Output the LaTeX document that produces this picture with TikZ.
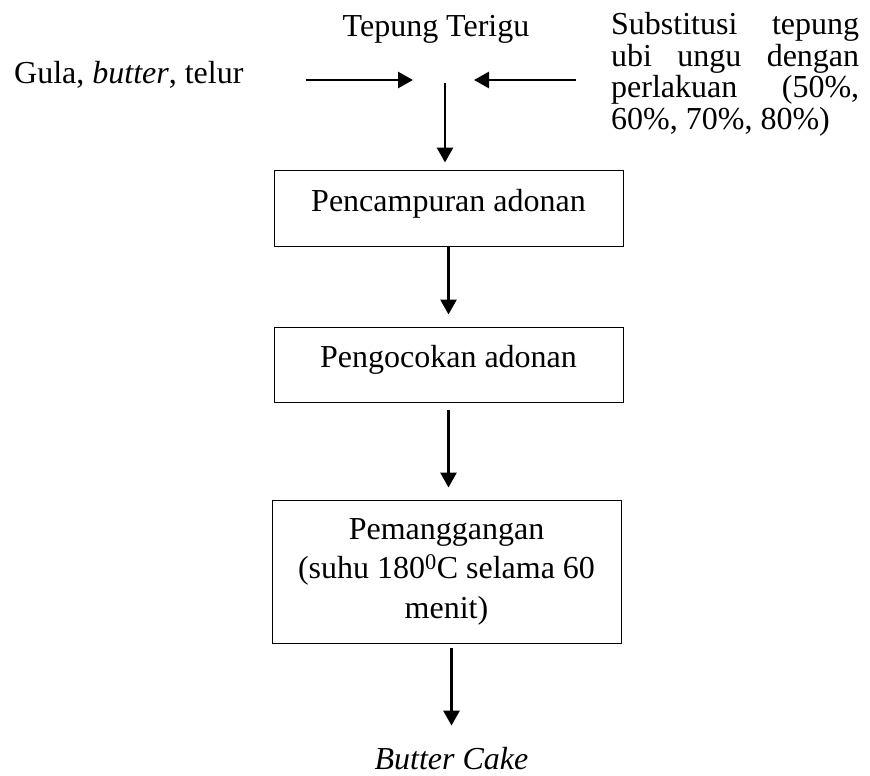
\documentclass[tikz,border=0pt]{standalone}
\usepackage{fontspec}
\setmainfont{Liberation Serif}
\usetikzlibrary{arrows.meta}
\tikzset{stepbox/.style={draw=black,line width=1pt,minimum width=349pt,inner sep=0pt,align=center}}
\tikzset{oneline/.style={text height=22pt,text depth=16pt}}
\tikzset{flow/.style={-{Triangle[length=15pt,width=16pt]},line width=2.8pt}}

\begin{document}
\begin{tikzpicture}[x=1pt,y=-1pt,every node/.style={font=\fontsize{32}{39.5}\selectfont}]
% \draw[help lines] (0,0) grid (870,776);
\useasboundingbox (0,0) rectangle (870,776);
\node (gula) [anchor=base west,inner sep=0pt] at (14,83) {Gula, \textit{butter}, telur};
\node (terigu) [anchor=base,inner sep=0pt] at (436,37) {Tepung Terigu};
\node (ubi) [anchor=north west,inner sep=0pt,text width=248pt,align=justify,font=\fontsize{32}{31.6}\selectfont] at (611,12) {Substitusi tepung\linebreak ubi ungu dengan\linebreak perlakuan (50\%,\linebreak 60\%, 70\%, 80\%)};
\coordinate (temu) at (445,80);
%
\node (campur) [stepbox,oneline,minimum height=76pt] at (448.5,208) {Pencampuran adonan};
\node (kocok) [stepbox,oneline,minimum height=75pt] at (448.5,364.5) {Pengocokan adonan};
\node (panggang) [stepbox,minimum height=143pt] at (446.5,571.5) {Pemanggangan\\(suhu 180\textsuperscript{0}C selama 60\\menit)};
\node (cake) [anchor=base,inner sep=0pt] at (451.5,769) {\textit{Butter Cake}};
%
\draw[flow,shorten <=62pt,shorten >=32pt] (gula.east |- temu) -- (temu);
\draw[flow,shorten <=35pt,shorten >=29pt] (ubi.west |- temu) -- (temu);
\draw[flow,shorten <=3pt,shorten >=7pt] (temu) -- (temu |- campur.north);
\draw[flow,shorten >=12pt] (campur.south) -- (kocok.north);
\draw[flow,shorten <=7pt,shorten >=12pt] (kocok.south) -- (kocok.south |- panggang.north);
\draw[flow,shorten <=4pt,shorten >=21pt] (panggang.south -| cake) -- (cake.north);
\end{tikzpicture}
\end{document}
